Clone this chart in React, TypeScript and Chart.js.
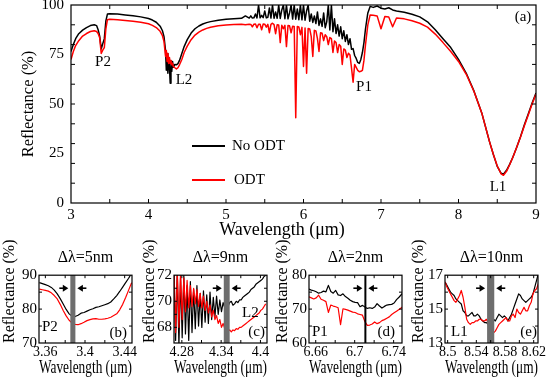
import { useEffect, useRef } from "react";
import { Chart, registerables } from "chart.js";
Chart.register(...registerables);

const SERIF = '"Liberation Serif", "Times New Roman", serif';

// ---------------- main panel (a) ----------------
const mainWl = [
  3.00, 3.03, 3.06, 3.10, 3.15, 3.20, 3.25, 3.30, 3.33, 3.35,
  3.37, 3.39, 3.41, 3.43, 3.45, 3.47, 3.50, 3.60, 3.70, 3.80,
  3.90, 4.00, 4.05, 4.10, 4.15, 4.18, 4.20, 4.22, 4.23, 4.24,
  4.25, 4.26, 4.27, 4.28, 4.29, 4.30, 4.31, 4.32, 4.34, 4.36,
  4.38, 4.40, 4.43, 4.46, 4.50, 4.55, 4.60, 4.65, 4.70, 4.75,
  4.80, 4.90, 5.00, 5.10, 5.20, 5.25,
  5.30, 5.32, 5.34, 5.36, 5.38, 5.40, 5.42, 5.44, 5.46, 5.48,
  5.50, 5.52, 5.54, 5.56, 5.58, 5.60, 5.62, 5.64, 5.66, 5.68,
  5.70, 5.72, 5.74, 5.76, 5.78, 5.80, 5.82, 5.84, 5.86, 5.88,
  5.90, 5.92, 5.94, 5.96, 5.98, 6.00, 6.02, 6.04, 6.06, 6.08,
  6.10, 6.12, 6.14, 6.16, 6.18, 6.20, 6.22, 6.24, 6.26, 6.28,
  6.30, 6.32, 6.34, 6.36, 6.38, 6.40, 6.42, 6.44, 6.46, 6.48,
  6.50, 6.52, 6.54, 6.56, 6.58, 6.60, 6.62, 6.64, 6.66, 6.68,
  6.70,
  6.72, 6.74, 6.76, 6.78, 6.80, 6.83, 6.86, 6.90, 6.95, 7.00,
  7.05, 7.10, 7.15, 7.20, 7.30, 7.40, 7.50, 7.60, 7.70, 7.80,
  7.90, 8.00, 8.10, 8.20, 8.30, 8.40, 8.45, 8.50, 8.55, 8.58,
  8.62, 8.66, 8.70, 8.75, 8.80, 8.85, 8.90, 8.95, 9.00,
];
const mainNoOdt = [
  76.5, 80, 83, 85.5, 87.3, 88.6, 89.6, 90, 89.6, 87.5,
  84.3, 77.8, 80.5, 83.0, 92, 95.4, 95.6, 95.4, 95, 94.6,
  94.0, 93.2, 92.4, 91.3, 89.3, 87, 84, 77, 67, 75.5,
  65.5, 73.5, 69, 60.5, 72, 66.5, 71.5, 68.5, 70, 69.8,
  70.4, 72, 75.5, 79, 82.5, 85.8, 88, 89.4, 90.4, 91.1,
  91.6, 92.3, 92.8, 93.1, 93.3, 94.5,
  93.4, 94.5, 93.4, 93.5, 95.5, 93.5, 100, 93.5, 94.8, 93.6,
  97, 93.5, 93.8, 98.5, 93.4, 100, 93.3, 96.5, 93.3, 100,
  93.2, 97.5, 100, 93.1, 100, 93, 96, 100, 92.9, 100,
  92.8, 98, 92.6, 100, 92.5, 100, 92.3, 97, 100, 91.8,
  95.5, 91.2, 94.5, 90.6, 96.5, 89.7, 93, 89.2, 96, 88.5,
  91.5, 100, 87.4, 100, 86.5, 93, 85.6, 90, 84.3, 89,
  83, 87, 81.6, 85, 80, 83, 77.6, 78, 74.5, 73,
  71,
  70.5, 72.5, 76, 81, 88, 96, 99.3, 98.8, 99.5, 98.4,
  98, 98.6, 97.5, 97, 96.3, 95.3, 94, 91.5, 87.5, 83,
  78.5, 72.5, 65.5, 56.5, 45.5, 31, 24.5, 18.5, 15, 14.5,
  16.5, 19.5, 23, 28, 33.5, 39.5, 45, 50.5, 55.5,
];
const mainOdt = [
  72.5, 76.5, 79.5, 82, 84.3, 85.6, 86.6, 87.0, 86.6, 85.6,
  83.5, 75.5, 77.2, 78.5, 88, 92.6, 92.8, 92.6, 92.2, 91.8,
  91.3, 90.5, 89.7, 88.6, 86.7, 84.5, 81.5, 74, 77, 71.5,
  75.5, 70.5, 73.5, 70.5, 72, 69.8, 70.6, 69, 68.3, 67.7,
  68.3, 69.8, 72.5, 76, 79.2, 82.5, 84.8, 86.3, 87.4, 88.2,
  88.8, 89.5, 89.9, 90.1, 90.3, 90.0,
  90.3, 90.2, 89, 90.3, 90.4, 88.5, 90.3, 90.3, 87.5, 90.4,
  90.3, 88.8, 90.2, 86, 90.2, 90.8, 90.1, 85.5, 90, 89.9,
  81, 89.8, 88, 89.7, 79, 89.6, 89.5, 86, 89.3, 89.2,
  43, 89.1, 88.9, 85, 88.7, 69, 88.4, 65.5, 88.1, 87.9,
  84, 74, 87.2, 86.9, 83, 76.5, 86, 85.7, 82, 85,
  84, 80, 83.6, 83, 76, 81.8, 81, 76, 80, 79.2,
  70, 77.8, 77.2, 73.5, 75.6, 74.7, 68, 61, 70, 68.5,
  67,
  66.3, 66.5, 67, 72, 80, 90, 95, 94.8, 94.5, 88,
  94.2, 93.9, 89, 93.4, 93, 92, 90.8, 88.8, 85.3, 81,
  76.5, 71.5, 65, 56.3, 45.5, 31, 24.5, 18.7, 14.7, 14,
  16, 19.3, 23, 28, 33.3, 39, 44.5, 50, 55,
];
const mainXTicks = [3, 4, 5, 6, 7, 8, 9];
const mainXLabels = ["3", "4", "5", "6", "7", "8", "9"];
const mainYTicks = [0, 25, 50, 75, 100];
const mainYLabels = ["0", "25", "50", "75", "100"];
const mainXMarks = [3.5, 4, 4.5, 5, 5.5, 6, 6.5, 7, 7.5, 8, 8.5];
const mainYMarks = [10, 20, 30, 40, 50, 60, 70, 80, 90];
const seriesLabels = ["No ODT", "ODT"];

// ---------------- inset (b) ----------------
const bWl = [
  3.354, 3.357, 3.360, 3.363, 3.366, 3.369, 3.372, 3.375, 3.378, 3.381,
  3.384, 3.387, 3.390, 3.393, 3.396, 3.399, 3.402, 3.405, 3.408, 3.411,
  3.414, 3.417, 3.420, 3.423, 3.426, 3.429, 3.432, 3.435, 3.438, 3.441,
  3.444, 3.447,
];
const bNoOdt = [
  87.8, 87.5, 87.2, 86.9, 86.4, 85.6, 84.5, 83.1, 81.5, 79.9,
  78.6, 77.9, 77.8, 78.2, 78.8, 79.0, 79.4, 79.8, 80.1, 80.5,
  80.7, 81.0, 81.3, 81.6, 82.1, 83.0, 84.0, 85.2, 86.5, 87.8,
  89.1, 90.6,
];
const bOdt = [
  85.9, 85.7, 85.5, 85.3, 84.8, 84.0, 83.0, 81.4, 79.6, 78.0,
  76.7, 75.9, 75.5, 75.4, 75.7, 76.1, 76.6, 76.9, 77.1, 77.2,
  77.0, 77.0, 77.1, 77.3, 77.6, 78.1, 78.6, 79.8, 81.4, 83.4,
  85.6, 87.8,
];
const bXTicks = [3.36, 3.40, 3.44];
const bXLabels = ["3.36", "3.4", "3.44"];
const bYTicks = [70, 80, 90];
const bYLabels = ["70", "80", "90"];
const bBand = [3.3852, 3.3903];

// ---------------- inset (c) ----------------
const cWl = [
  4.2680, 4.2705, 4.2730, 4.2755, 4.2780, 4.2805, 4.2830, 4.2855, 4.2880, 4.2905,
  4.2930, 4.2955, 4.2980, 4.3005, 4.3030, 4.3055, 4.3080, 4.3105, 4.3130, 4.3155,
  4.3180, 4.3205, 4.3230, 4.3255, 4.3280, 4.3305, 4.3330, 4.3355, 4.3380, 4.3405,
  4.3430, 4.3455, 4.3480, 4.3505, 4.3530, 4.3555, 4.3580, 4.3605, 4.3630, 4.3655,
  4.3680, 4.3705, 4.3730, 4.3755, 4.3780, 4.3805, 4.3830, 4.3855, 4.3880, 4.3905,
  4.3930, 4.3955, 4.3980, 4.4005, 4.4030, 4.4055, 4.4080,
];
const cNoOdt = [
  72.5, 67.0, 72.3, 66.6, 71.8, 67.2, 72.0, 67.5, 71.2, 67.0,
  71.5, 67.6, 70.9, 67.9, 71.2, 68.1, 70.6, 68.0, 70.8, 68.4,
  70.5, 68.3, 70.7, 68.6, 70.3, 68.8, 70.4, 69.0, 70.1, 69.2,
  69.9, 69.5, 69.8, 69.6, 69.9, 70.0, 69.7, 69.8, 70.0, 69.9,
  70.1, 70.1, 70.3, 70.4, 70.5, 70.6, 70.7, 70.9, 71.0, 71.1,
  71.3, 71.4, 71.5, 71.6, 71.7, 71.9, 72.0,
];
const cOdt = [
  72.5, 67.6, 72.4, 68.0, 72.2, 68.6, 71.8, 69.2, 71.6, 69.5,
  71.2, 69.6, 71.0, 69.8, 70.9, 69.6, 70.6, 69.5, 70.4, 69.3,
  70.0, 69.1, 69.7, 68.8, 69.3, 68.6, 68.9, 68.3, 68.6, 68.0,
  68.3, 67.9, 68.0, 67.7, 67.8, 67.65, 67.8, 67.75, 67.9, 67.85,
  68.0, 68.0, 68.1, 68.2, 68.3, 68.4, 68.5, 68.6, 68.7, 68.8,
  68.9, 69.0, 69.1, 69.3, 69.4, 69.6, 69.8,
];
const cXTicks = [4.28, 4.34, 4.40];
const cXLabels = ["4.28", "4.34", "4.4"];
const cYTicks = [68, 70, 72];
const cYLabels = ["68", "70", "72"];
const cBand = [4.344, 4.353];

// ---------------- inset (d) ----------------
const dWl = [
  6.6530, 6.6555, 6.6580, 6.6605, 6.6630, 6.6655, 6.6680, 6.6705, 6.6730, 6.6755,
  6.6780, 6.6805, 6.6830, 6.6855, 6.6880, 6.6905, 6.6930, 6.6955, 6.6980, 6.7005,
  6.7030, 6.7055, 6.7080, 6.7105, 6.7130, 6.7155, 6.7180, 6.7205, 6.7230, 6.7255,
  6.7280, 6.7305, 6.7330, 6.7355, 6.7380, 6.7405, 6.7430, 6.7455, 6.7480, 6.7505,
];
const dNoOdt = [
  75.9, 75.6, 75.4, 75.1, 74.7, 74.9, 75.3, 75.1, 77.0, 75.2,
  74.7, 75.5, 74.2, 74.0, 74.5, 73.7, 73.2, 72.6, 72.2, 72.0,
  71.9, 70.7, 71.1, 70.6, 70.2, 70.4, 70.2, 70.6, 71.6, 70.9,
  70.3, 70.8, 71.2, 71.3, 71.4, 71.8, 72.8, 73.5, 74.3, 75.0,
];
const dOdt = [
  73.6, 73.3, 73.0, 73.3, 74.1, 72.9, 72.6, 72.2, 69.0, 71.2,
  70.9, 70.7, 70.4, 65.4, 70.1, 69.9, 69.7, 69.4, 69.1, 69.0,
  68.6, 68.4, 68.2, 66.3, 65.2, 65.3, 65.6, 66.2, 65.7, 66.0,
  66.6, 66.9, 67.3, 67.7, 68.4, 68.9, 69.4, 69.9, 70.4, 70.9,
];
const dXTicks = [6.66, 6.70, 6.74];
const dXLabels = ["6.66", "6.7", "6.74"];
const dYTicks = [60, 70, 80];
const dYLabels = ["60", "70", "80"];
const dLine = 6.711;

// ---------------- inset (e) ----------------
const eWl = [
  8.4965, 8.4990, 8.5015, 8.5040, 8.5065, 8.5090, 8.5115, 8.5140, 8.5165, 8.5190,
  8.5215, 8.5240, 8.5265, 8.5290, 8.5315, 8.5340, 8.5365, 8.5390, 8.5415, 8.5440,
  8.5465, 8.5490, 8.5515, 8.5540, 8.5565, 8.5590, 8.5615, 8.5640, 8.5665, 8.5690,
  8.5715, 8.5740, 8.5765, 8.5790, 8.5815, 8.5840, 8.5865, 8.5890, 8.5915, 8.5940,
  8.5965, 8.5990, 8.6015, 8.6040, 8.6065, 8.6090, 8.6115, 8.6140, 8.6165, 8.6190,
  8.6215, 8.6240, 8.6265,
];
const eNoOdt = [
  16.6, 16.4, 16.2, 16.0, 15.9, 15.8, 15.6, 15.5, 15.4, 15.3,
  14.9, 14.8, 14.6, 14.6, 14.7, 14.8, 14.6, 14.6, 14.7, 14.6,
  14.4, 14.3, 14.2, 14.2, 14.1, 14.5, 14.8, 14.4, 14.3, 14.5,
  14.7, 14.6, 14.5, 14.6, 14.5, 14.3, 14.5, 14.7, 15.0, 15.3,
  15.6, 15.9, 15.8, 15.6, 15.5, 15.4, 15.5, 15.6, 15.7, 15.9,
  16.3, 16.7, 17.1,
];
const eOdt = [
  16.6, 16.3, 16.1, 15.9, 15.7, 15.5, 15.4, 15.6, 15.8, 16.1,
  15.7, 15.1, 14.4, 14.2, 14.1, 14.2, 14.2, 14.3, 14.3, 14.4,
  14.4, 14.3, 14.3, 14.4, 14.2, 13.9, 13.7, 13.6, 13.7, 13.9,
  14.1, 14.2, 14.3, 14.4, 14.5, 14.3, 14.3, 14.6, 14.7, 14.5,
  15.0, 14.8, 14.7, 14.9, 15.1, 14.9, 14.9, 15.2, 15.4, 15.9,
  16.1, 16.2, 16.5,
];
const eXTicks = [8.50, 8.54, 8.58, 8.62];
const eXLabels = ["8.5", "8.54", "8.58", "8.62"];
const eYTicks = [13, 15, 17];
const eYLabels = ["13", "15", "17"];
const eBand = [8.555, 8.565];

// ---------------- drawing helpers ----------------
type TextItem = {
  text: string;
  mode: "data" | "area" | "canvas";
  x: number;
  y: number;
  ax?: "l" | "r";
  ay?: "t" | "b";
  align: CanvasTextAlign;
  size?: number;
};

interface OverlayCfg {
  xMarks: number[];
  yMarks: number[];
  markLen: number;
  band?: number[];
  vline?: number;
  arrows?: boolean;
  texts: TextItem[];
  textSize: number;
  legend?: boolean;
}

function drawArrow(ctx: CanvasRenderingContext2D, x1: number, x2: number, y: number) {
  const dir = Math.sign(x2 - x1);
  ctx.beginPath();
  ctx.moveTo(x1, y);
  ctx.lineTo(x2 - dir * 4, y);
  ctx.lineWidth = 1.6;
  ctx.stroke();
  ctx.beginPath();
  ctx.moveTo(x2, y);
  ctx.lineTo(x2 - dir * 5.5, y - 3.5);
  ctx.lineTo(x2 - dir * 5.5, y + 3.5);
  ctx.closePath();
  ctx.fill();
}

function overlayPlugin(cfg: OverlayCfg) {
  return {
    id: "overlay",
    afterDraw(chart: any) {
      const { ctx, chartArea: a, scales } = chart;
      const xs = scales.x;
      const ys = scales.y;
      ctx.save();
      let tl: number | null = null;
      let tr: number | null = null;
      if (cfg.band) {
        const x1 = xs.getPixelForValue(cfg.band[0]);
        const x2 = xs.getPixelForValue(cfg.band[1]);
        ctx.fillStyle = "#6e6e6e";
        ctx.fillRect(x1, a.top, x2 - x1, a.bottom - a.top);
        tl = x1;
        tr = x2;
      }
      if (cfg.vline !== undefined) {
        const x = xs.getPixelForValue(cfg.vline);
        ctx.strokeStyle = "#000";
        ctx.lineWidth = 2;
        ctx.beginPath();
        ctx.moveTo(x, a.top);
        ctx.lineTo(x, a.bottom);
        ctx.stroke();
        tl = x - 1;
        tr = x + 1;
      }
      ctx.strokeStyle = "#000";
      ctx.lineWidth = 1.2;
      ctx.strokeRect(a.left, a.top, a.right - a.left, a.bottom - a.top);
      const L = cfg.markLen;
      ctx.lineWidth = 1;
      ctx.beginPath();
      for (const v of cfg.xMarks) {
        const x = xs.getPixelForValue(v);
        ctx.moveTo(x, a.bottom);
        ctx.lineTo(x, a.bottom - L);
        ctx.moveTo(x, a.top);
        ctx.lineTo(x, a.top + L);
      }
      for (const v of cfg.yMarks) {
        const y = ys.getPixelForValue(v);
        ctx.moveTo(a.left, y);
        ctx.lineTo(a.left + L, y);
        ctx.moveTo(a.right, y);
        ctx.lineTo(a.right - L, y);
      }
      ctx.stroke();
      if (cfg.arrows && tl !== null && tr !== null) {
        const y = a.top + 13;
        ctx.strokeStyle = "#000";
        ctx.fillStyle = "#000";
        drawArrow(ctx, tl - 11, tl - 2, y);
        drawArrow(ctx, tr + 11, tr + 2, y);
      }
      ctx.fillStyle = "#000";
      ctx.textBaseline = "middle";
      for (const t of cfg.texts) {
        let px: number;
        let py: number;
        if (t.mode === "data") {
          px = xs.getPixelForValue(t.x);
          py = ys.getPixelForValue(t.y);
        } else if (t.mode === "canvas") {
          px = t.x;
          py = t.y;
        } else {
          px = t.ax === "r" ? a.right - t.x : a.left + t.x;
          py = t.ay === "b" ? a.bottom - t.y : a.top + t.y;
        }
        ctx.font = `${t.size || cfg.textSize}px ${SERIF}`;
        ctx.textAlign = t.align;
        ctx.fillText(t.text, px, py);
      }
      if (cfg.legend) {
        const ds = chart.data.datasets;
        ds.forEach((d: any, i: number) => {
          const y = a.top + 141 + i * 34;
          const x0 = a.left + 121;
          ctx.strokeStyle = d.borderColor;
          ctx.lineWidth = 2.2;
          ctx.beginPath();
          ctx.moveTo(x0, y);
          ctx.lineTo(x0 + 33, y);
          ctx.stroke();
          ctx.fillStyle = "#000";
          ctx.textAlign = "left";
          ctx.font = `15px ${SERIF}`;
          ctx.fillText(d.label, x0 + 40 + i * 2, y);
        });
      }
      ctx.restore();
    },
  };
}

function series(wl: number[], vals: number[]) {
  return wl.map((x, i) => ({ x, y: vals[i] }));
}

function datasets(wl: number[], noOdt: number[], odt: number[], width: number) {
  return [
    {
      label: seriesLabels[0],
      data: series(wl, noOdt),
      borderColor: "#000000",
      borderWidth: width,
      pointRadius: 0,
      tension: 0,
      borderJoinStyle: "round",
      order: 1,
      clip: 0,
    },
    {
      label: seriesLabels[1],
      data: series(wl, odt),
      borderColor: "#ff0000",
      borderWidth: width,
      pointRadius: 0,
      tension: 0,
      borderJoinStyle: "round",
      order: 0,
      clip: 0,
    },
  ];
}

const X_TITLE = "Wavelength (μm)";

function axisX(min: number, max: number, ticks: number[], labels: string[], height: number, tickSize: number, tickPad: number, titleSize: number, titleAlign: string, titlePadB: number, showTitle: boolean) {
  return {
    type: "linear",
    min,
    max,
    afterBuildTicks: (ax: any) => {
      ax.ticks = ticks.map((v) => ({ value: v }));
    },
    afterFit: (ax: any) => {
      ax.height = height;
      ax.paddingLeft = 0;
      ax.paddingRight = 0;
    },
    grid: { display: false, drawTicks: false },
    border: { display: false },
    ticks: {
      autoSkip: false,
      maxRotation: 0,
      padding: tickPad,
      color: "#000",
      font: { family: SERIF, size: tickSize },
      callback: (_v: any, i: number) => labels[i],
    },
    title: {
      display: showTitle,
      text: X_TITLE,
      color: "#000",
      align: titleAlign,
      font: { family: SERIF, size: titleSize },
      padding: { top: 0, bottom: titlePadB },
    },
  };
}

function axisY(min: number, max: number, ticks: number[], labels: string[], width: number, tickSize: number, tickPad: number, titleSize: number, titleAlign: string, titlePadT: number) {
  return {
    type: "linear",
    min,
    max,
    afterBuildTicks: (ax: any) => {
      ax.ticks = ticks.map((v) => ({ value: v }));
    },
    afterFit: (ax: any) => {
      ax.width = width;
      ax.paddingTop = 0;
      ax.paddingBottom = 0;
    },
    grid: { display: false, drawTicks: false },
    border: { display: false },
    ticks: {
      autoSkip: false,
      padding: tickPad,
      color: "#000",
      font: { family: SERIF, size: tickSize },
      callback: (_v: any, i: number) => labels[i],
    },
    title: {
      display: true,
      text: "Reflectance (%)",
      color: "#000",
      align: titleAlign,
      font: { family: SERIF, size: titleSize },
      padding: { top: titlePadT, bottom: 0 },
    },
  };
}

function PlotCanvas({ left, top, width, height, build }: { left: number; top: number; width: number; height: number; build: () => any }) {
  const ref = useRef<HTMLCanvasElement>(null);
  useEffect(() => {
    const chart = new Chart(ref.current as HTMLCanvasElement, build());
    return () => chart.destroy();
  }, []);
  return (
    <canvas
      ref={ref}
      width={width}
      height={height}
      style={{ position: "absolute", left, top, width, height }}
    />
  );
}

const MAIN_H = 240;

function buildMain() {
  return {
    type: "line",
    data: { datasets: datasets(mainWl, mainNoOdt, mainOdt, 1.5) },
    options: {
      animation: false,
      responsive: false,
      events: [],
      layout: { padding: { left: 0, right: 14, top: 5, bottom: 0 } },
      plugins: { legend: { display: false }, tooltip: { enabled: false }, title: { display: false } },
      scales: {
        x: axisX(3, 9, mainXTicks, mainXLabels, MAIN_H - 203, 15, 3, 18, "center", 0, false),
        y: axisY(0, 100, mainYTicks, mainYLabels, 71, 15, 7, 16.5, "center", 19),
      },
    },
    plugins: [
      overlayPlugin({
        xMarks: mainXMarks,
        yMarks: mainYMarks,
        markLen: 4,
        texts: [
          { text: "P2", mode: "data", x: 3.413, y: 71.2, align: "center" },
          { text: "L2", mode: "data", x: 4.458, y: 62.1, align: "center" },
          { text: "P1", mode: "data", x: 6.781, y: 58.6, align: "center" },
          { text: "L1", mode: "data", x: 8.51, y: 8.1, align: "center" },
          { text: "(a)", mode: "data", x: 8.832, y: 93.9, align: "center" },
          { text: X_TITLE, mode: "canvas", x: 282, y: 230, align: "center", size: 18 },
        ],
        textSize: 15,
        legend: true,
      }),
    ],
  };
}

interface SubCfg {
  left: number;
  width: number;
  yAxisW: number;
  rightPad: number;
  yTitlePad: number;
  title: string;
  wl: number[];
  noOdt: number[];
  odt: number[];
  xRange: number[];
  xTicks: number[];
  xLabels: string[];
  xMarks: number[];
  yRange: number[];
  yTicks: number[];
  yLabels: string[];
  yMarks: number[];
  band?: number[];
  vline?: number;
  texts: TextItem[];
}

const SUB_TOP = 240;
const SUB_H = 139;

function buildSub(s: SubCfg) {
  return () => ({
    type: "line",
    data: { datasets: datasets(s.wl, s.noOdt, s.odt, 1.2) },
    options: {
      animation: false,
      responsive: false,
      events: [],
      layout: { padding: { left: 0, right: s.rightPad, top: 0, bottom: 0 } },
      plugins: {
        legend: { display: false },
        tooltip: { enabled: false },
        title: {
          display: true,
          text: s.title,
          fullSize: false,
          color: "#000",
          font: { family: SERIF, size: 16, weight: "normal" },
          padding: { top: 8, bottom: 8 },
        },
      },
      scales: {
        x: axisX(s.xRange[0], s.xRange[1], s.xTicks, s.xLabels, SUB_H - 103, 14, 1, 18, "end", 0, true),
        y: axisY(s.yRange[0], s.yRange[1], s.yTicks, s.yLabels, s.yAxisW, 15, 2, 16, "start", s.yTitlePad),
      },
    },
    plugins: [
      overlayPlugin({
        xMarks: s.xMarks,
        yMarks: s.yMarks,
        markLen: 3,
        band: s.band,
        vline: s.vline,
        arrows: true,
        texts: s.texts,
        textSize: 15,
      }),
    ],
  });
}

const subs: SubCfg[] = [
  {
    left: 0, width: 137, yAxisW: 39, rightPad: 5, yTitlePad: 0,
    title: "Δλ=5nm", wl: bWl, noOdt: bNoOdt, odt: bOdt,
    xRange: [3.3536, 3.4474], xTicks: bXTicks, xLabels: bXLabels, xMarks: [3.36, 3.38, 3.40, 3.42, 3.44],
    yRange: [70, 90], yTicks: bYTicks, yLabels: bYLabels, yMarks: [75, 80, 85],
    band: bBand,
    texts: [
      { text: "P2", mode: "area", x: 3, ax: "l", y: 16, ay: "b", align: "left" },
      { text: "(b)", mode: "area", x: 5, ax: "r", y: 10, ay: "b", align: "right" },
    ],
  },
  {
    left: 137, width: 137, yAxisW: 37, rightPad: 7, yTitlePad: 3,
    title: "Δλ=9nm", wl: cWl, noOdt: cNoOdt, odt: cOdt,
    xRange: [4.268, 4.41], xTicks: cXTicks, xLabels: cXLabels, xMarks: [4.28, 4.31, 4.34, 4.37, 4.40],
    yRange: [66.8, 72], yTicks: cYTicks, yLabels: cYLabels, yMarks: [68, 69, 70, 71],
    band: cBand,
    texts: [
      { text: "L2", mode: "area", x: 68, ax: "l", y: 38, ay: "t", align: "left" },
      { text: "(c)", mode: "area", x: 2, ax: "r", y: 11, ay: "b", align: "right" },
    ],
  },
  {
    left: 272, width: 137, yAxisW: 37, rightPad: 7, yTitlePad: 1,
    title: "Δλ=2nm", wl: dWl, noOdt: dNoOdt, odt: dOdt,
    xRange: [6.6531, 6.7486], xTicks: dXTicks, xLabels: dXLabels, xMarks: [6.66, 6.68, 6.70, 6.72, 6.74],
    yRange: [60, 80], yTicks: dYTicks, yLabels: dYLabels, yMarks: [65, 70, 75],
    vline: dLine,
    texts: [
      { text: "P1", mode: "area", x: 3, ax: "l", y: 11, ay: "b", align: "left" },
      { text: "(d)", mode: "area", x: 7, ax: "r", y: 11, ay: "b", align: "right" },
    ],
  },
  {
    left: 409, width: 141, yAxisW: 36, rightPad: 12, yTitlePad: 0,
    title: "Δλ=10nm", wl: eWl, noOdt: eNoOdt, odt: eOdt,
    xRange: [8.4963, 8.626], xTicks: eXTicks, xLabels: eXLabels, xMarks: [8.50, 8.52, 8.54, 8.56, 8.58, 8.60, 8.62],
    yRange: [13, 17], yTicks: eYTicks, yLabels: eYLabels, yMarks: [14, 15, 16],
    band: eBand,
    texts: [
      { text: "L1", mode: "area", x: 6, ax: "l", y: 11, ay: "b", align: "left" },
      { text: "(e)", mode: "area", x: 1, ax: "r", y: 11, ay: "b", align: "right" },
    ],
  },
];

export default function App() {
  return (
    <div style={{ position: "fixed", left: 0, top: 0, width: 550, height: 379, background: "#fff", overflow: "hidden" }}>
      <PlotCanvas left={0} top={0} width={550} height={MAIN_H} build={buildMain} />
      {subs.map((s, i) => (
        <PlotCanvas key={i} left={s.left} top={SUB_TOP} width={s.width} height={SUB_H} build={buildSub(s)} />
      ))}
    </div>
  );
}
